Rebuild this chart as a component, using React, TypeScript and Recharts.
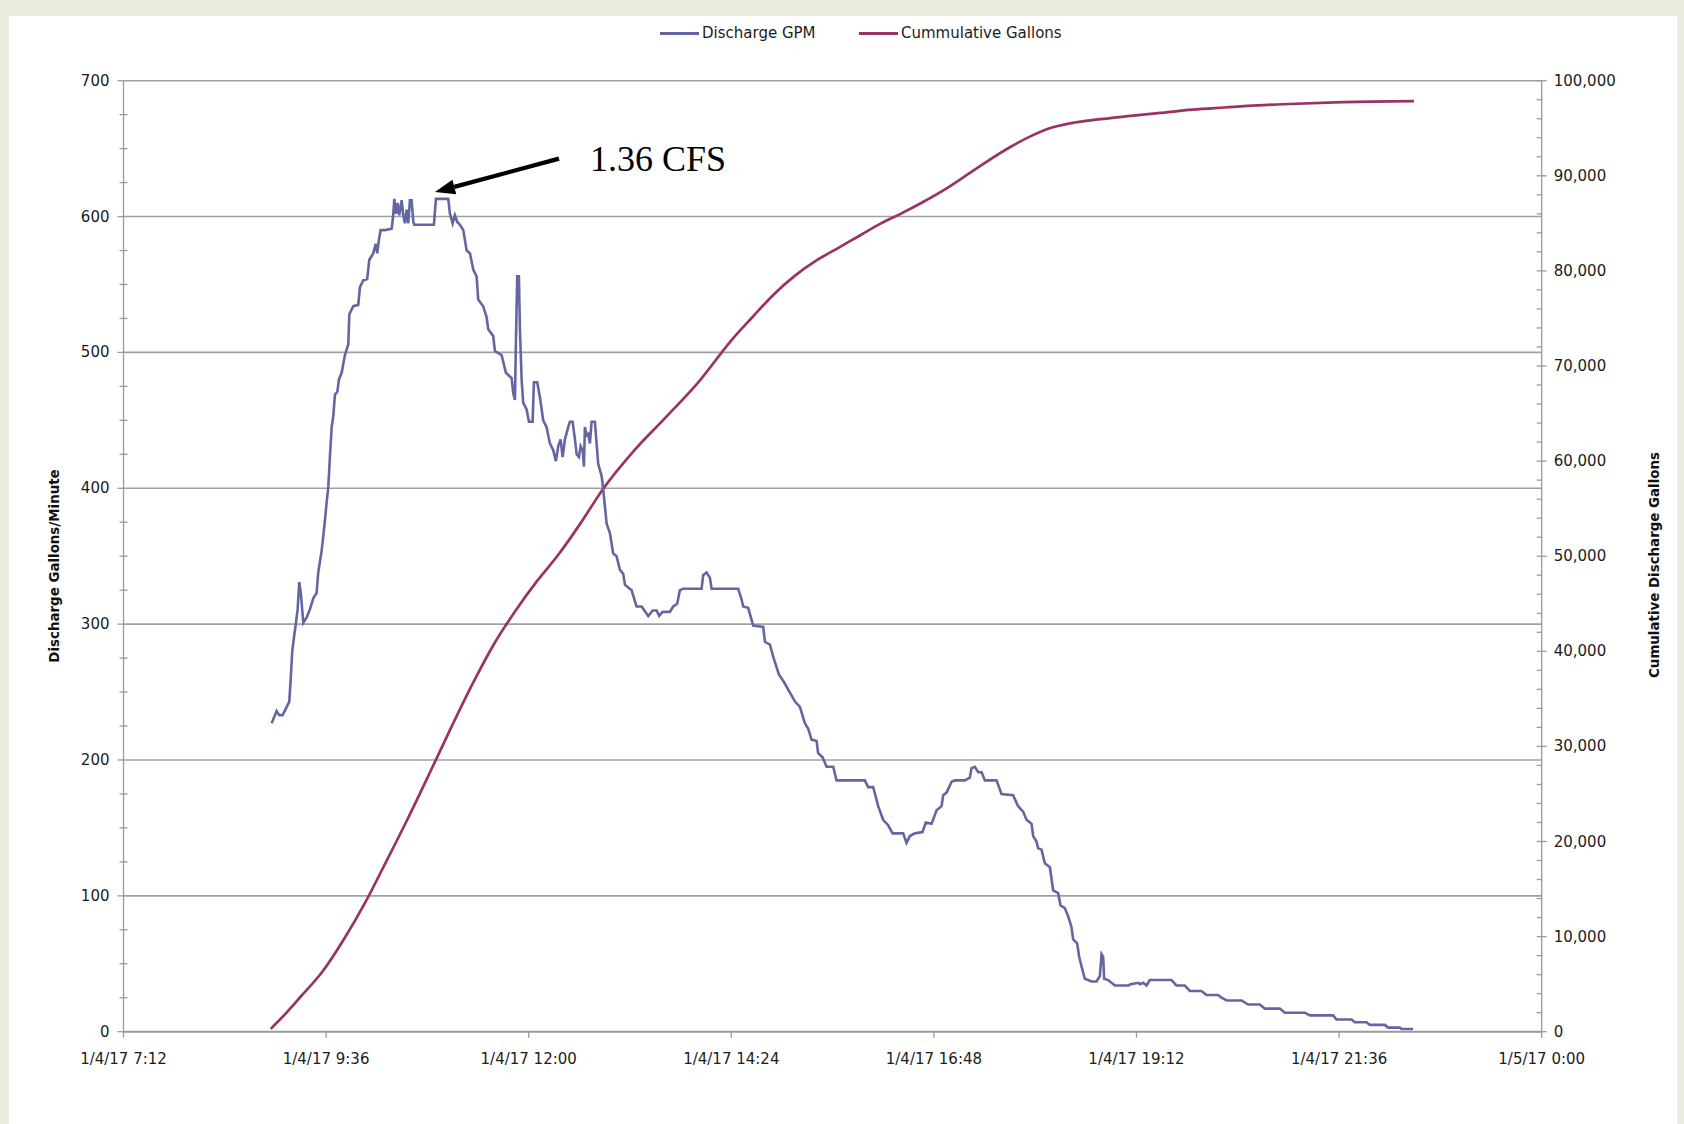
import { LineChart, Line, XAxis, YAxis, ReferenceLine, ReferenceDot } from 'recharts';

const W = 1684;
const H = 1124;

const AXIS = '#9a9a9a';
const GRID = '#a0a0a0';
const TEXT = '#1c1c1c';
const GPM_COLOR = '#6466a2';
const GAL_COLOR = '#993366';
const FONT = '"DejaVu Sans", Verdana, sans-serif';

// x axis: hours of the day (7.2 = 7:12)
const timeTicks = [7.2, 9.6, 12, 14.4, 16.8, 19.2, 21.6, 24];
const timeLabels = [
  '1/4/17 7:12',
  '1/4/17 9:36',
  '1/4/17 12:00',
  '1/4/17 14:24',
  '1/4/17 16:48',
  '1/4/17 19:12',
  '1/4/17 21:36',
  '1/5/17 0:00',
];

const gpmMajor = [0, 100, 200, 300, 400, 500, 600, 700];
const galMajor = [0, 10000, 20000, 30000, 40000, 50000, 60000, 70000, 80000, 90000, 100000];

// Discharge GPM (hour, gallons per minute)
const dischargeHours = [
  8.955, 9.014, 9.045, 9.085, 9.125, 9.164, 9.18, 9.199, 9.223, 9.243, 9.263, 9.282, 9.302, 9.33,
  9.37, 9.409, 9.448, 9.488, 9.507, 9.527, 9.547, 9.567, 9.587, 9.607, 9.626, 9.646, 9.666, 9.685,
  9.705, 9.733, 9.752, 9.784, 9.823, 9.863, 9.875, 9.922, 9.981, 10.001, 10.04, 10.087, 10.111,
  10.159, 10.187, 10.206, 10.226, 10.246, 10.297, 10.377, 10.396, 10.408, 10.428, 10.447, 10.467,
  10.495, 10.514, 10.534, 10.554, 10.573, 10.593, 10.613, 10.633, 10.645, 10.877, 10.901, 11.047,
  11.067, 11.099, 11.126, 11.154, 11.186, 11.225, 11.265, 11.304, 11.343, 11.383, 11.402, 11.461,
  11.501, 11.521, 11.58, 11.6, 11.679, 11.73, 11.798, 11.817, 11.837, 11.849, 11.864, 11.884,
  11.896, 11.916, 11.935, 11.975, 12.003, 12.046, 12.062, 12.101, 12.133, 12.172, 12.212, 12.251,
  12.291, 12.322, 12.35, 12.378, 12.402, 12.429, 12.468, 12.488, 12.52, 12.548, 12.568, 12.595,
  12.615, 12.639, 12.654, 12.666, 12.686, 12.705, 12.725, 12.745, 12.784, 12.804, 12.823, 12.864,
  12.883, 12.923, 12.962, 13.001, 13.041, 13.081, 13.12, 13.14, 13.219, 13.258, 13.278, 13.338,
  13.416, 13.468, 13.515, 13.546, 13.586, 13.673, 13.712, 13.759, 13.791, 13.83, 14.048, 14.067,
  14.107, 14.147, 14.167, 14.482, 14.522, 14.541, 14.6, 14.659, 14.778, 14.798, 14.857, 14.896,
  14.964, 15.027, 15.091, 15.155, 15.213, 15.272, 15.311, 15.351, 15.41, 15.429, 15.481, 15.529,
  15.607, 15.647, 15.982, 16.021, 16.081, 16.14, 16.199, 16.258, 16.31, 16.436, 16.476, 16.515,
  16.574, 16.665, 16.704, 16.772, 16.832, 16.891, 16.91, 16.95, 17.009, 17.048, 17.167, 17.226,
  17.246, 17.285, 17.325, 17.365, 17.404, 17.542, 17.601, 17.738, 17.798, 17.857, 17.897, 17.957,
  17.976, 18.015, 18.035, 18.075, 18.114, 18.174, 18.213, 18.272, 18.3, 18.351, 18.39, 18.43,
  18.45, 18.497, 18.521, 18.549, 18.588, 18.667, 18.726, 18.766, 18.786, 18.805, 18.817, 18.864,
  18.944, 19.108, 19.128, 19.226, 19.24, 19.279, 19.319, 19.357, 19.614, 19.674, 19.772, 19.832,
  19.97, 20.029, 20.167, 20.207, 20.267, 20.286, 20.444, 20.523, 20.661, 20.72, 20.898, 20.957,
  21.194, 21.253, 21.529, 21.569, 21.747, 21.786, 21.924, 21.964, 22.141, 22.181, 22.319, 22.339,
  22.476,
];
const dischargeGpm = [
  227, 236, 233, 233, 238, 243, 259, 280, 292, 301, 311, 331, 322, 301,
  305, 311, 319, 323, 338, 346, 354, 365, 377, 390, 401, 424, 445, 453,
  469, 471, 480, 485, 498, 506, 528, 534, 535, 548, 553, 554, 568,
  573, 580, 573, 583, 590, 590, 591, 602, 613, 602, 610, 601,
  612, 601, 595, 605, 595, 612, 612, 596, 594, 594, 613, 613,
  602, 595, 601, 596, 594, 590, 575, 573, 561, 556, 539, 534,
  526, 517, 512, 501, 498, 485, 481, 470, 465, 509, 556, 556,
  517, 480, 463, 458, 449, 449, 478, 478, 467, 450, 445, 433,
  428, 420, 431, 436, 423, 436, 445, 449, 449, 436, 425, 423,
  431, 428, 416, 445, 439, 440, 433, 449, 449, 433, 418, 409,
  399, 374, 367, 352, 350, 340, 337, 329, 325, 317, 313, 313,
  306, 310, 310, 306, 309, 309, 313, 315, 325, 326, 326, 336,
  338, 334, 326, 326, 318, 313, 312, 299, 298, 287, 285, 276,
  263, 257, 250, 243, 239, 227, 223, 215, 214, 205, 202, 195,
  195, 185, 185, 180, 180, 166, 156, 152, 146, 146, 139, 144,
  146, 147, 154, 153, 163, 166, 174, 176, 184, 185, 185, 187,
  194, 195, 191, 191, 185, 185, 175, 174, 166, 162, 156, 153,
  144, 140, 135, 134, 124, 121, 104, 102, 93, 91, 85, 77,
  68, 65, 55, 48, 39, 37, 37, 41, 57, 55, 39, 38,
  34, 34, 35, 36, 35, 36, 34, 38, 38, 34, 34, 30,
  30, 27, 27, 25, 23, 23, 23, 20, 20, 17, 17, 14,
  14, 12, 12, 9, 9, 7, 7, 5, 5, 3, 3, 2,
  2,
];

// Cummulative Gallons (hour, gallons)
const cumulativeHours = [
  8.944, 9.109, 9.3, 9.555, 9.809, 10.064, 10.318, 10.573, 10.827, 11.082, 11.336, 11.591, 11.846,
  12.1, 12.355, 12.609, 12.883, 13.238, 13.634, 14.029, 14.391, 14.646, 14.9, 15.155, 15.409,
  15.664, 15.918, 16.173, 16.427, 16.682, 16.936, 17.191, 17.445, 17.7, 17.955, 18.209, 18.464,
  18.718, 19.1, 19.482, 19.864, 20.245, 20.627, 21.009, 21.645, 22.486,
];
const cumulativeGallons = [
  300, 1800, 3700, 6300, 9700, 13600, 18000, 22500, 27200, 32000, 36600, 40800, 44300,
  47400, 50200, 53400, 57100, 61000, 64700, 68500, 72600, 75100, 77500, 79500, 81100,
  82400, 83700, 85000, 86100, 87300, 88600, 90100, 91600, 93000, 94200, 95100, 95600,
  95900, 96270, 96610, 96950, 97180, 97400, 97550, 97750, 97850,
];

const dischargeData = dischargeHours.map((t, i) => ({ t, gpm: dischargeGpm[i] }));
const cumulativeData = cumulativeHours.map((t, i) => ({ t, gal: cumulativeGallons[i] }));

const gpmTicks = gpmMajor.flatMap((v) => (v < 700 ? [v, v + 25, v + 50, v + 75] : [v]));
const galTicks = galMajor.flatMap((v) =>
  v < 100000 ? [v, v + 2000, v + 4000, v + 6000, v + 8000] : [v]
);

const tickText = { fontFamily: FONT, fontSize: 15, fill: TEXT };

function TimeTick(props: any) {
  const { x, y, payload } = props;
  const idx = timeTicks.indexOf(payload.value);
  return (
    <g>
      <line x1={x} x2={x} y1={y} y2={y + 6} stroke={AXIS} strokeWidth={1.3} />
      <text x={x} y={y + 27} textAnchor="middle" dominantBaseline="central" {...tickText}>
        {idx >= 0 ? timeLabels[idx] : ''}
      </text>
    </g>
  );
}

function GpmTick(props: any) {
  const { x, y, payload } = props;
  const v = payload.value;
  const major = v % 100 === 0;
  return (
    <g>
      {major ? (
        <line x1={x - 6} x2={x} y1={y} y2={y} stroke={AXIS} strokeWidth={1.3} />
      ) : (
        <line x1={x - 4} x2={x + 4} y1={y} y2={y} stroke={AXIS} strokeWidth={1.3} />
      )}
      {major && (
        <text x={x - 14} y={y} textAnchor="end" dominantBaseline="central" {...tickText}>
          {v}
        </text>
      )}
    </g>
  );
}

function GalTick(props: any) {
  const { x, y, payload } = props;
  const v = payload.value;
  const major = v % 10000 === 0;
  return (
    <g>
      {major ? (
        <line x1={x - 5} x2={x + 5} y1={y} y2={y} stroke={AXIS} strokeWidth={1.3} />
      ) : (
        <line x1={x - 5} x2={x} y1={y} y2={y} stroke={AXIS} strokeWidth={1.3} />
      )}
      {major && (
        <text x={x + 12} y={y} textAnchor="start" dominantBaseline="central" {...tickText}>
          {v.toLocaleString('en-US')}
        </text>
      )}
    </g>
  );
}

// arrow + "1.36 CFS" callout, anchored at the peak
function PeakCallout(props: any) {
  const { cx, cy } = props;
  if (cx == null || cy == null) return null;
  const tx = cx + 124;
  const ty = cy - 33.5;
  const len = Math.hypot(tx - cx, ty - cy);
  const ux = (tx - cx) / len;
  const uy = (ty - cy) / len;
  const bx = cx + ux * 20;
  const by = cy + uy * 20;
  const nx = -uy * 7.5;
  const ny = ux * 7.5;
  return (
    <g>
      <line x1={bx} y1={by} x2={tx} y2={ty} stroke="#000" strokeWidth={4.2} />
      <polygon points={`${cx},${cy} ${bx + nx},${by + ny} ${bx - nx},${by - ny}`} fill="#000" />
      <text
        x={cx + 155}
        y={cy - 21}
        fontFamily='"Liberation Serif", "Times New Roman", serif'
        fontSize={36}
        fill="#000"
      >
        1.36 CFS
      </text>
    </g>
  );
}

function LegendItem({ left, color, label }: { left: number; color: string; label: string }) {
  return (
    <div
      style={{
        position: 'absolute',
        left,
        top: 23,
        height: 20,
        display: 'flex',
        alignItems: 'center',
        fontFamily: FONT,
        fontSize: 15,
        color: TEXT,
        whiteSpace: 'nowrap',
      }}
    >
      <span style={{ display: 'inline-block', width: 39, height: 3, background: color, marginRight: 3 }} />
      {label}
    </div>
  );
}

const axisTitle = {
  position: 'absolute' as const,
  transform: 'translate(-50%, -50%) rotate(-90deg)',
  whiteSpace: 'nowrap' as const,
  fontFamily: FONT,
  fontWeight: 700,
  fontSize: 13.4,
  color: '#111',
};

export default function App() {
  return (
    <div
      style={{
        position: 'absolute',
        left: 0,
        top: 0,
        width: W,
        height: H,
        background: '#ecebe0',
        overflow: 'hidden',
      }}
    >
      <div style={{ position: 'absolute', left: 9, top: 16, right: 7, bottom: 0, background: '#fff' }} />

      <div style={{ position: 'absolute', left: 0, top: 0 }}>
        <LineChart
          width={W}
          height={H}
          margin={{ top: 80.7, right: 42.3, bottom: 52.3, left: 53.5 }}
          style={{ fontFamily: FONT }}
        >
          <XAxis
            xAxisId={0}
            type="number"
            dataKey="t"
            domain={[7.2, 24]}
            ticks={timeTicks}
            interval={0}
            allowDataOverflow
            height={40}
            tickSize={0}
            tickMargin={0}
            tickLine={false}
            axisLine={{ stroke: AXIS, strokeWidth: 2 }}
            tick={<TimeTick />}
          />
          <YAxis
            yAxisId="gpm"
            orientation="left"
            domain={[0, 700]}
            ticks={gpmTicks}
            interval={0}
            width={70}
            tickSize={0}
            tickMargin={0}
            tickLine={false}
            axisLine={{ stroke: AXIS, strokeWidth: 1.3 }}
            tick={<GpmTick />}
          />
          <YAxis
            yAxisId="gal"
            orientation="right"
            domain={[0, 100000]}
            ticks={galTicks}
            interval={0}
            width={100}
            tickSize={0}
            tickMargin={0}
            tickLine={false}
            axisLine={{ stroke: AXIS, strokeWidth: 1.3 }}
            tick={<GalTick />}
          />
          {gpmMajor
            .filter((v) => v > 0)
            .map((v) => (
              <ReferenceLine key={v} yAxisId="gpm" y={v} stroke={GRID} strokeWidth={1.6} />
            ))}
          <Line
            data={cumulativeData}
            yAxisId="gal"
            dataKey="gal"
            name="Cummulative Gallons"
            type="monotone"
            stroke={GAL_COLOR}
            strokeWidth={2.7}
            dot={false}
            isAnimationActive={false}
          />
          <Line
            data={dischargeData}
            yAxisId="gpm"
            dataKey="gpm"
            name="Discharge GPM"
            type="linear"
            stroke={GPM_COLOR}
            strokeWidth={2.6}
            strokeLinejoin="miter"
            dot={false}
            isAnimationActive={false}
          />
          <ReferenceDot yAxisId="gpm" x={10.89} y={618} r={1} shape={<PeakCallout />} />
        </LineChart>
      </div>

      <LegendItem left={660} color={GPM_COLOR} label="Discharge GPM" />
      <LegendItem left={859} color={GAL_COLOR} label="Cummulative Gallons" />

      <div style={{ ...axisTitle, left: 54, top: 566 }}>Discharge Gallons/Minute</div>
      <div style={{ ...axisTitle, left: 1654, top: 565 }}>Cumulative Discharge Gallons</div>
    </div>
  );
}
